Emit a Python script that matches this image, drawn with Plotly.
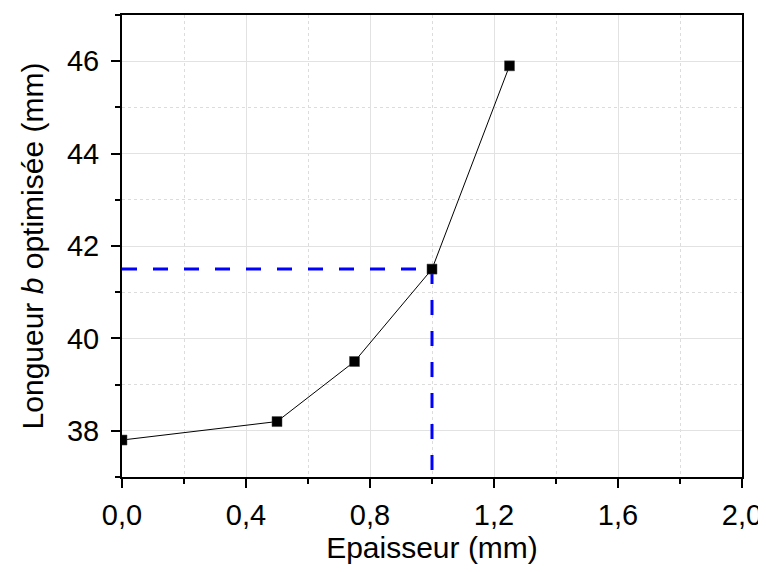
import plotly.graph_objects as go

# Data
epaisseur = [0.0, 0.5, 0.75, 1.0, 1.25]
longueur_b = [37.8, 38.2, 39.5, 41.5, 45.9]

# Reference (dashed) lines
ref_h_x = [0.0, 1.0]
ref_h_y = [41.5, 41.5]
ref_v_x = [1.0, 1.0]
ref_v_y = [41.5, 37.0]

x_tickvals = [0.0, 0.4, 0.8, 1.2, 1.6, 2.0]
x_ticktext = ["0,0", "0,4", "0,8", "1,2", "1,6", "2,0"]
y_tickvals = [38, 40, 42, 44, 46]
y_ticktext = ["38", "40", "42", "44", "46"]

FONT = "Liberation Sans, Arial, sans-serif"

fig = go.Figure()

fig.add_trace(go.Scatter(
    x=ref_h_x, y=ref_h_y, mode="lines",
    line=dict(color="#0000ff", width=3, dash="15px,16px"),
    showlegend=False, hoverinfo="skip",
))
fig.add_trace(go.Scatter(
    x=ref_v_x, y=ref_v_y, mode="lines",
    line=dict(color="#0000ff", width=3, dash="15px,16px"),
    showlegend=False, hoverinfo="skip",
))
fig.add_trace(go.Scatter(
    x=epaisseur, y=longueur_b, mode="lines+markers",
    line=dict(color="black", width=1),
    marker=dict(symbol="square", size=10, color="black",
                line=dict(color="#444", width=0.5)),
    showlegend=False,
))

axis_common = dict(
    showline=True, linecolor="black", linewidth=2, mirror=True,
    ticks="outside", ticklen=9, tickwidth=1.5, tickcolor="black",
    showgrid=True, gridcolor="#e2e2e2", gridwidth=1,
    zeroline=False, automargin=False,
    tickfont=dict(family=FONT, size=29, color="black"),
)

fig.update_xaxes(
    range=[0, 2.0],
    tickvals=x_tickvals, ticktext=x_ticktext,
    title=dict(text="Epaisseur (mm)", font=dict(family=FONT, size=30, color="black"), standoff=12),
    minor=dict(dtick=0.2, ticks="outside", ticklen=5, tickwidth=1.5, tickcolor="black",
               showgrid=True, gridcolor="#dcdcdc", griddash="dot", gridwidth=1),
    ticklabelstandoff=2,
    **axis_common,
)
fig.update_yaxes(
    range=[37, 47],
    tickvals=y_tickvals, ticktext=y_ticktext,
    title=dict(text="Longueur <i>b</i> optimisée (mm)", font=dict(family=FONT, size=30, color="black"), standoff=14),
    minor=dict(dtick=1, tick0=37, ticks="outside", ticklen=5, tickwidth=1.5, tickcolor="black",
               showgrid=True, gridcolor="#dcdcdc", griddash="dot", gridwidth=1),
    ticklabelstandoff=6,
    **axis_common,
)

# page body adds an 8px offset, so the figure is sized/margined to compensate
fig.update_layout(
    width=758, height=556,
    margin=dict(l=114, r=24, t=7, b=87),
    plot_bgcolor="white", paper_bgcolor="white",
    font=dict(family=FONT, color="black"),
)

fig.write_html("out.html")
